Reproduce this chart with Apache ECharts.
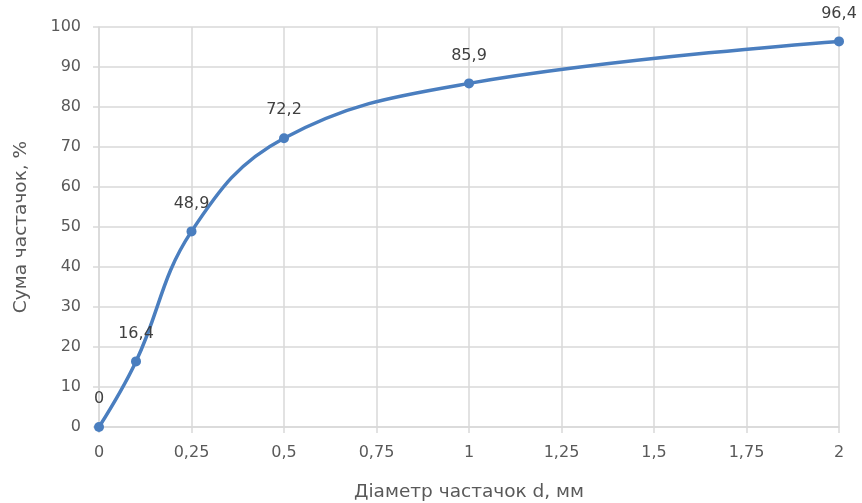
<!DOCTYPE html>
<html><head><meta charset="utf-8">
<script src="https://cdn.jsdelivr.net/npm/echarts@6/dist/echarts.min.js"></script>
<style>html,body{margin:0;padding:0;background:#fff}#c{width:862px;height:503px}</style>
</head><body><div id="c"></div>
<script>
const diameters = [0, 0.1, 0.25, 0.5, 1, 2];
const sums = [0, 16.4, 48.9, 72.2, 85.9, 96.4];
const xTitle = 'Діаметр частачок d, мм';
const yTitle = 'Сума частачок, %';

const fmt = v => String(v).replace('.', ',');
const chart = echarts.init(document.getElementById('c'));
const txt = '#595959';
const grid = '#d9d9d9';
const ff = 'DejaVu Sans';
chart.setOption({
  animation: false,
  grid: {left: 99, right: 23, top: 27, bottom: 76, outerBoundsMode: 'none', containLabel: false},
  xAxis: {
    type: 'value', min: 0, max: 2, interval: 0.25,
    name: xTitle, nameLocation: 'middle', nameGap: 56,
    nameTextStyle: {color: txt, fontSize: 18.5, fontFamily: ff},
    axisLine: {lineStyle: {color: grid, width: 1.5}},
    axisTick: {show: true, length: 6, lineStyle: {color: grid, width: 1.5}},
    axisLabel: {color: txt, fontSize: 16, fontFamily: ff, margin: 18, formatter: fmt},
    splitLine: {show: true, lineStyle: {color: grid, width: 1.5}}
  },
  yAxis: {
    type: 'value', min: 0, max: 100, interval: 10,
    name: yTitle, nameLocation: 'middle', nameGap: 68, nameRotate: 90,
    nameTextStyle: {color: txt, fontSize: 18.5, fontFamily: ff},
    axisLine: {show: true, lineStyle: {color: grid, width: 1.5}},
    axisTick: {show: true, length: 6, lineStyle: {color: grid, width: 1.5}},
    axisLabel: {color: txt, fontSize: 16, fontFamily: ff, margin: 18},
    splitLine: {show: true, lineStyle: {color: grid, width: 1.5}}
  },
  series: [{
    type: 'line',
    data: diameters.map((d, i) => [d, sums[i]]),
    smooth: 0.4,
    symbol: 'circle', symbolSize: 10,
    lineStyle: {color: '#4a7ebf', width: 3.5},
    itemStyle: {color: '#4a7ebf'},
    label: {show: true, position: 'top', distance: 15, color: '#404040', fontSize: 16,
      fontFamily: ff, formatter: p => fmt(p.value[1])}
  }]
});
</script></body></html>
